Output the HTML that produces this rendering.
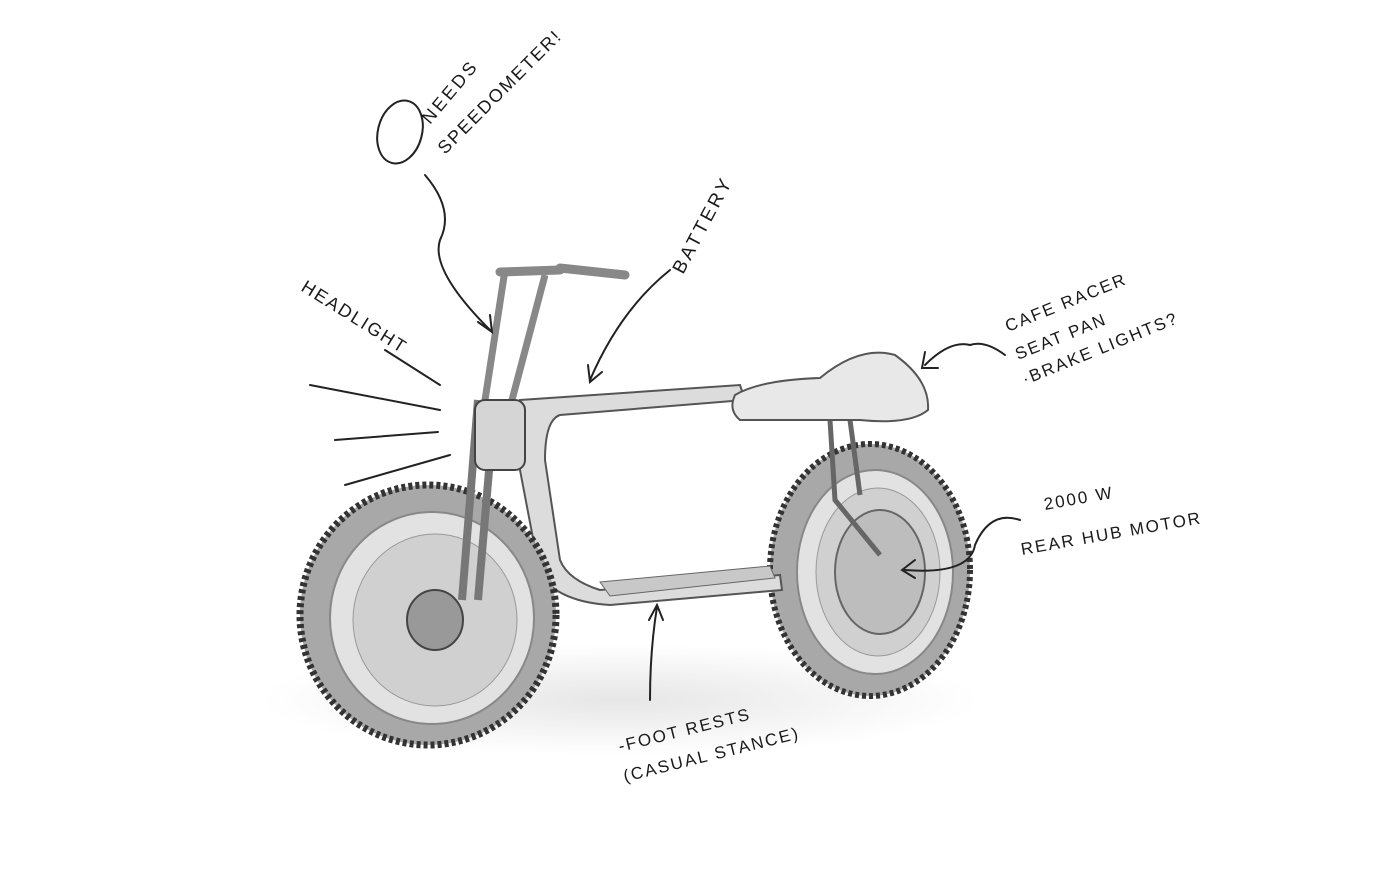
<!DOCTYPE html>
<html><head><meta charset="utf-8"><style>
html,body{margin:0;padding:0;background:#fff;}
svg{display:block}
text{font-family:"Liberation Sans",sans-serif;fill:#1a1a1a;font-size:17px;letter-spacing:2px}
</style></head><body>
<svg width="1400" height="888" viewBox="0 0 1400 888" xmlns="http://www.w3.org/2000/svg">
<defs>
<radialGradient id="sh" cx="50%" cy="50%" r="50%"><stop offset="0" stop-color="#e6e6e6"/><stop offset="1" stop-color="#fff"/></radialGradient>
</defs>
<rect width="1400" height="888" fill="#fff"/>
<ellipse cx="620" cy="700" rx="360" ry="55" fill="url(#sh)"/>
<g>
<ellipse cx="870" cy="570" rx="100" ry="126" fill="#a8a8a8" stroke="#333" stroke-width="6" stroke-dasharray="4 3"/>
<ellipse cx="875" cy="572" rx="78" ry="102" fill="#e2e2e2" stroke="#888" stroke-width="2"/>
<ellipse cx="878" cy="572" rx="62" ry="84" fill="#d0d0d0" stroke="#999"/>
<ellipse cx="880" cy="572" rx="45" ry="62" fill="#bdbdbd" stroke="#666" stroke-width="2"/>
</g>
<path d="M520,400 L740,385 L745,400 L560,415 Q545,420 545,460 L560,560 Q568,580 600,590 L780,575 L782,590 L610,605 Q560,602 540,575 L520,470 Z" fill="#dcdcdc" stroke="#555" stroke-width="2"/>
<path d="M600,582 L770,566 L775,578 L610,596 Z" fill="#c8c8c8" stroke="#666"/>
<path d="M830,420 L835,500 L880,555 M850,420 L860,495" stroke="#666" stroke-width="5" fill="none"/>
<path d="M735,395 Q760,380 820,378 Q860,345 895,355 Q930,380 928,410 Q910,425 860,420 L740,420 Q728,410 735,395 Z" fill="#e8e8e8" stroke="#555" stroke-width="2"/>
<g>
<ellipse cx="428" cy="615" rx="128" ry="130" fill="#a8a8a8" stroke="#333" stroke-width="7" stroke-dasharray="4 3"/>
<ellipse cx="432" cy="618" rx="102" ry="106" fill="#e2e2e2" stroke="#888" stroke-width="2"/>
<ellipse cx="435" cy="620" rx="82" ry="86" fill="#d0d0d0" stroke="#999"/>
<ellipse cx="435" cy="620" rx="28" ry="30" fill="#999" stroke="#444" stroke-width="2"/>
</g>
<path d="M478,400 L462,600 M495,400 L478,600" stroke="#777" stroke-width="8" fill="none"/>
<path d="M505,270 L485,400 M545,275 L512,400" stroke="#888" stroke-width="7" fill="none"/>
<path d="M500,272 L560,270 M560,268 L625,275" stroke="#888" stroke-width="9" stroke-linecap="round" fill="none"/>
<rect x="475" y="400" width="50" height="70" rx="10" fill="#d5d5d5" stroke="#444" stroke-width="2"/>
<g stroke="#222" stroke-width="2" fill="none" stroke-linecap="round">
<ellipse cx="400" cy="132" rx="22" ry="32" transform="rotate(15 400 132)"/>
<path d="M425,175 Q455,210 440,240 Q430,270 490,330 M478,322 L492,332 L490,315"/>
<path d="M670,270 Q620,310 590,380 M588,365 L590,382 L602,372"/>
<path d="M385,350 L440,385 M310,385 L440,410 M335,440 L438,432 M345,485 L450,455"/>
<path d="M1005,355 Q985,340 970,345 Q950,340 925,365 M925,352 L922,368 L938,368"/>
<path d="M1020,520 Q990,510 975,545 Q970,575 905,570 M915,560 L902,570 L915,578"/>
<path d="M650,700 Q650,650 657,607 M649,620 L657,605 L663,620"/>
</g>
<text transform="translate(430,125) rotate(-50)" style="font-size:18px;letter-spacing:3px">NEEDS</text>
<text transform="translate(445,155) rotate(-45)" style="font-size:18px;letter-spacing:2px">SPEEDOMETER!</text>
<text transform="translate(683,275) rotate(-62)" style="font-size:19px;letter-spacing:3px">BATTERY</text>
<text transform="translate(300,290) rotate(32)" style="font-size:18px">HEADLIGHT</text>
<text transform="translate(1008,332) rotate(-22)">CAFE RACER</text>
<text transform="translate(1018,360) rotate(-22)">SEAT PAN</text>
<text transform="translate(1025,385) rotate(-22)">·BRAKE LIGHTS?</text>
<text transform="translate(1045,510) rotate(-10)">2000 W</text>
<text transform="translate(1022,555) rotate(-10)">REAR HUB MOTOR</text>
<text transform="translate(620,752) rotate(-14)">-FOOT RESTS</text>
<text transform="translate(625,782) rotate(-14)">(CASUAL STANCE)</text>
</svg>
</body></html>
